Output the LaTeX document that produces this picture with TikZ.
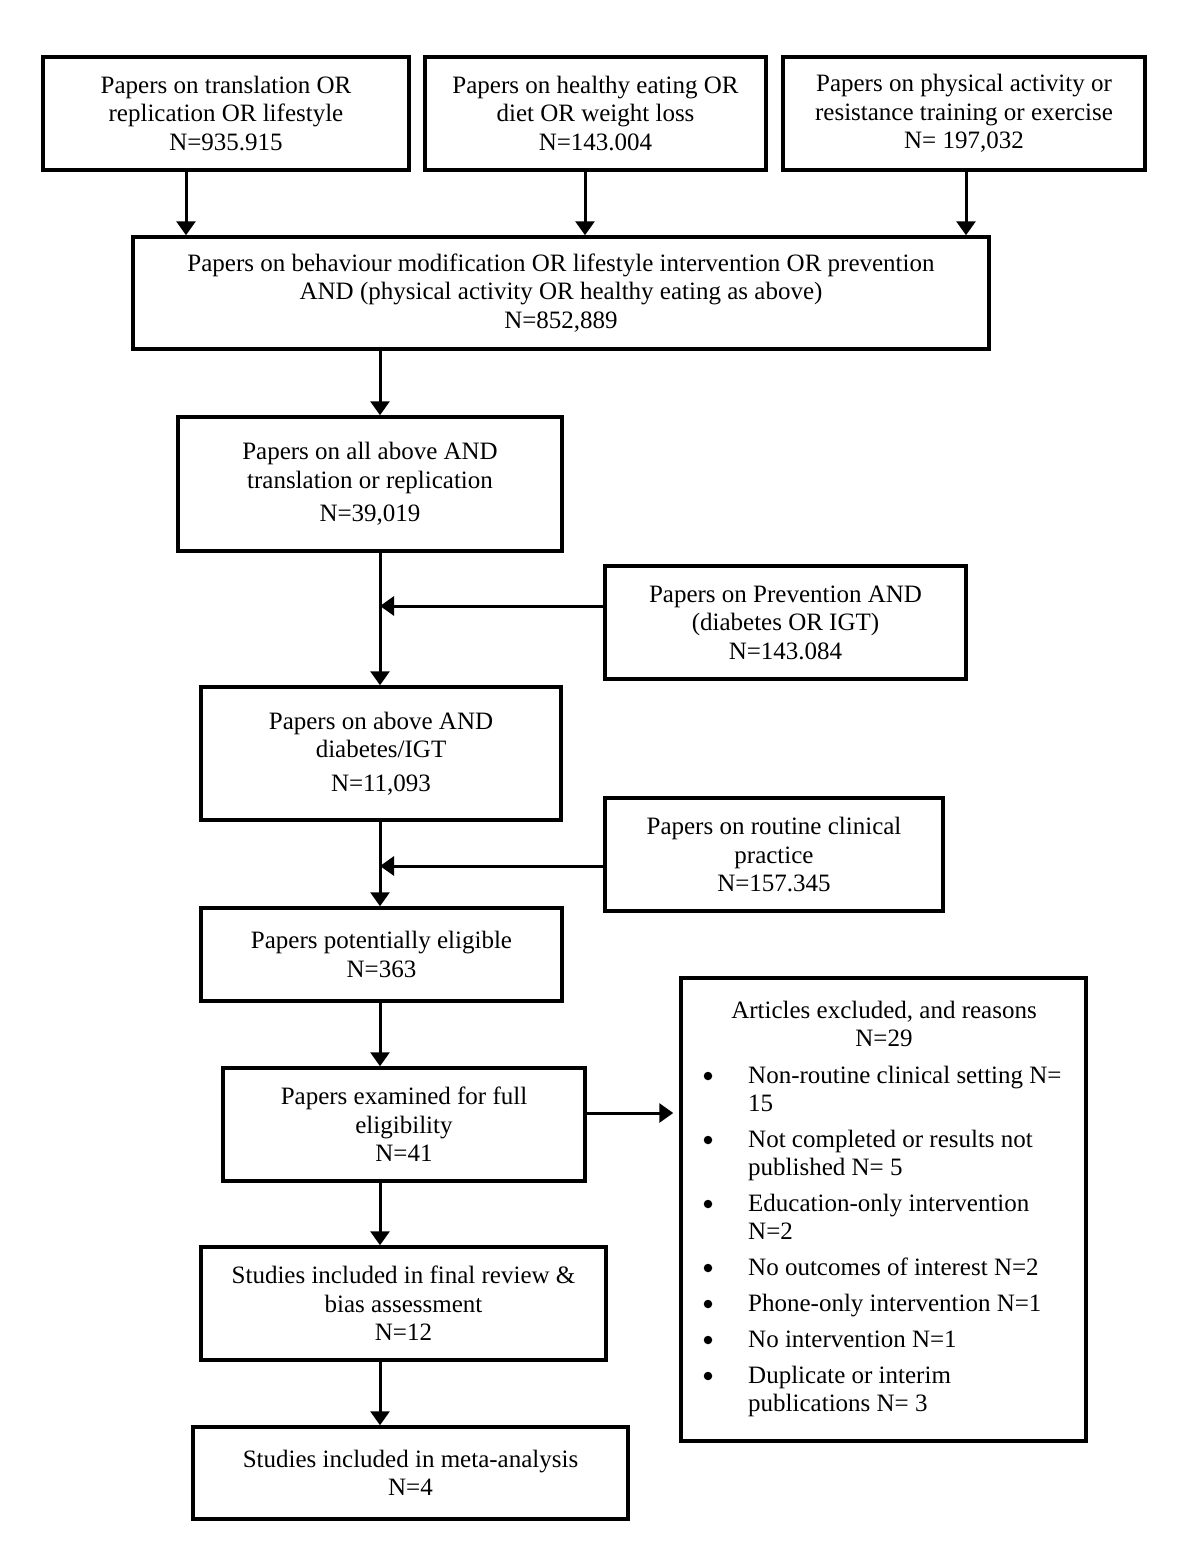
\documentclass[tikz,border=0pt]{standalone}
\usepackage{fontspec}
\setmainfont{Liberation Serif}
\usetikzlibrary{arrows.meta}
\begin{document}
\begin{tikzpicture}[x=1pt,y=-1pt,
  box/.style={draw, line width=3.5pt, align=center, inner sep=0pt, font=\fontsize{25}{28.5}\selectfont},
  txt/.style={inner sep=0pt, align=left, yshift=-3pt, font=\fontsize{25}{28.5}\selectfont},
  dot/.style={circle, fill, inner sep=0pt, minimum size=8.5pt},
  arr/.style={-{Triangle[length=14pt,width=19pt]}, line width=3pt}]
\useasboundingbox[fill=white] (0,0) rectangle (1200,1557);
% boxes
\node[box, minimum width=366, minimum height=113] (b1) at (226,113.5) {Papers on translation OR\\replication OR lifestyle\\N=935.915};
\node[box, minimum width=341, minimum height=113] (b2) at (595.5,113.5) {Papers on healthy eating OR\\diet OR weight loss\\N=143.004};
\node[box, minimum width=362, minimum height=113] (b3) at (964,113.5) {Papers on physical activity or\\resistance training or exercise\\N= 197,032};
\node[box, minimum width=856, minimum height=112] (big) at (561,293) {Papers on behaviour modification OR lifestyle intervention OR prevention\\AND (physical activity OR healthy eating as above)\\N=852,889};
\node[box, minimum width=384, minimum height=134] (above) at (370,484) {Papers on all above AND\\translation or replication\\[5pt]N=39,019};
\node[box, minimum width=361, minimum height=113] (prev) at (785.5,622.5) {Papers on Prevention AND\\(diabetes OR IGT)\\N=143.084};
\node[box, minimum width=360, minimum height=133] (diab) at (381,753.5) {Papers on above AND\\diabetes/IGT\\[5pt]N=11,093};
\node[box, minimum width=338, minimum height=113] (routine) at (774,854.5) {Papers on routine clinical\\practice\\N=157.345};
\node[box, minimum width=361, minimum height=93] (elig) at (381.5,954.5) {Papers potentially eligible\\N=363};
\node[box, minimum width=362, minimum height=113] (exam) at (404,1124.5) {Papers examined for full\\eligibility\\N=41};
\node[box, minimum width=405, minimum height=463] (excl) at (883.5,1209.5) {};
\node[box, minimum width=405, minimum height=113] (final) at (403.5,1303.5) {Studies included in final review \&\\bias assessment\\N=12};
\node[box, minimum width=435, minimum height=92] (meta) at (410.5,1473) {Studies included in meta-analysis\\N=4};
% excluded contents
\node[txt, align=center] (exT) at (884,1024) {\strut Articles excluded, and reasons\\\strut N=29};
\node[dot] (bu1) at (708,1076) {};
\node[txt, anchor=west] (it1) at (748,1089) {\strut Non-routine clinical setting N=\\\strut 15};
\node[dot] (bu2) at (708,1140) {};
\node[txt, anchor=west] (it2) at (748,1153) {\strut Not completed or results not\\\strut published N= 5};
\node[dot] (bu3) at (708,1204) {};
\node[txt, anchor=west] (it3) at (748,1217) {\strut Education-only intervention\\\strut N=2};
\node[dot] (bu4) at (708,1268) {};
\node[txt, anchor=west] (it4) at (748,1267) {\strut No outcomes of interest N=2};
\node[dot] (bu5) at (708,1304) {};
\node[txt, anchor=west] (it5) at (748,1303) {\strut Phone-only intervention N=1};
\node[dot] (bu6) at (708,1340) {};
\node[txt, anchor=west] (it6) at (748,1339) {\strut No intervention N=1};
\node[dot] (bu7) at (708,1376) {};
\node[txt, anchor=west] (it7) at (748,1389) {\strut Duplicate or interim\\\strut publications N= 3};
% connector guides
\coordinate (x1) at (186,0);
\coordinate (x2) at (585,0);
\coordinate (x3) at (966,0);
\coordinate (mx) at (380,0);
\coordinate (j1) at (380,606);
\coordinate (j2) at (380,866);
\coordinate (ex) at (0,1113);
% connectors
\draw[arr] (b1.south -| x1) -- (big.north -| x1);
\draw[arr] (b2.south -| x2) -- (big.north -| x2);
\draw[arr] (b3.south -| x3) -- (big.north -| x3);
\draw[arr] (big.south -| mx) -- (above.north -| mx);
\draw[arr] (above.south -| mx) -- (diab.north -| mx);
\draw[arr] (prev.west |- j1) -- (j1);
\draw[arr] (diab.south -| mx) -- (elig.north -| mx);
\draw[arr] (routine.west |- j2) -- (j2);
\draw[arr] (elig.south -| mx) -- (exam.north -| mx);
\draw[arr] (exam.east |- ex) -- ([xshift=-6pt]excl.west |- ex);
\draw[arr] (exam.south -| mx) -- (final.north -| mx);
\draw[arr] (final.south -| mx) -- (meta.north -| mx);
\end{tikzpicture}
\end{document}
